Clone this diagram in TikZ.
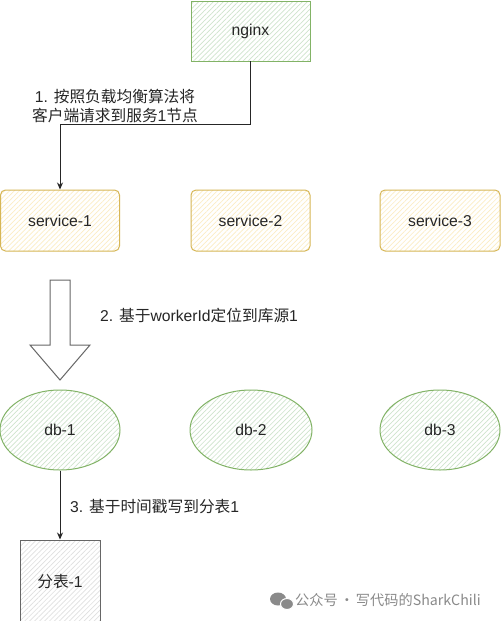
\documentclass[tikz,border=0pt]{standalone}
\usepackage{fontspec}
\setmainfont{Liberation Sans}
\newfontfamily\cjk{Noto Sans CJK SC}
\usetikzlibrary{patterns.meta,arrows.meta,shapes.geometric}
\definecolor{gline}{HTML}{82B366}
\definecolor{gfill}{HTML}{CFE4CD}
\definecolor{yline}{HTML}{D6B656}
\definecolor{yfill}{HTML}{FCEDC4}
\definecolor{kline}{HTML}{666666}
\definecolor{kfill}{HTML}{E0E0E0}
\definecolor{wm}{HTML}{8A8A8A}
\tikzset{
  txt/.style={font=\fontsize{15.7}{19}\selectfont, text=black!85},
  hatch/.style={preaction={fill=white}, pattern={Lines[angle=45,distance=3.5pt,line width=0.7pt]}, pattern color=#1},
  greenbox/.style={txt, draw=gline, line width=1pt, hatch=gfill, minimum width=119pt, minimum height=60pt, inner sep=0pt},
  yellowbox/.style={txt, draw=yline, line width=1pt, hatch=yfill, rounded corners=5pt, minimum width=119pt, minimum height=61pt, inner sep=0pt},
  dbell/.style={txt, ellipse, draw=gline, line width=1pt, hatch=gfill, minimum width=120pt, minimum height=80pt, inner sep=0pt},
  graybox/.style={txt, draw=kline, line width=1pt, hatch=kfill, minimum width=80pt, minimum height=84pt, inner sep=0pt},
  conn/.style={draw=black!85, line width=1pt, -{Stealth[length=7pt,width=6pt]}},
  lbl/.style={txt, inner sep=0pt},
}
\begin{document}
\begin{tikzpicture}[x=1pt,y=-1pt]
\useasboundingbox (0,0) rectangle (501,621);
\fill[white] (0,0) rectangle (501,621);

\node[greenbox] (nginx) at (250.5,31) {nginx};

\node[yellowbox] (s1) at (60,220.5) {service-1};
\node[yellowbox] (s2) at (250.5,220.5) {service-2};
\node[yellowbox, minimum width=120pt] (s3) at (440,220.5) {service-3};

\node[dbell] (db1) at (60,430) {db-1};
\node[dbell, minimum width=122pt] (db2) at (251,430) {db-2};
\node[dbell] (db3) at (440,430) {db-3};

\node[graybox] (t1) at (60,582) {{\cjk 分表}-1};

\coordinate (b1) at (250.5,124);
\coordinate (b2) at (60,124);
\draw[conn] (nginx.south) -- (b1) -- (b2) -- (s1.north);
\node[lbl, align=center] (l1) at (115,106) {1. {\cjk 按照负载均衡算法将}\\{\cjk 客户端请求到服务}1{\cjk 节点}};

% hollow block arrow
\draw[kline, line width=1pt, fill=white] (50,280) -- (70,280) -- (70,345) -- (90,345) -- (60,380) -- (30,345) -- (50,345) -- cycle;
\node[lbl, anchor=west] (l2) at (100,316) {2. {\cjk 基于}workerId{\cjk 定位到库源}1};

\draw[conn] (db1.south) -- (t1.north);
\node[lbl, anchor=west] (l3) at (70,507) {3. {\cjk 基于时间戳写到分表}1};

% watermark
\fill[wm] (278,599) ellipse (8pt and 6.5pt);
\fill[wm, draw=white, line width=1pt] (287,604) ellipse (6.5pt and 5.5pt);
\node[anchor=west, text=wm, inner sep=0pt, font=\fontsize{14.2}{16}\selectfont\cjk] (wmk) at (295,600) {公众号\hspace{2pt}·\hspace{2pt}写代码的SharkChili};
\end{tikzpicture}
\end{document}
